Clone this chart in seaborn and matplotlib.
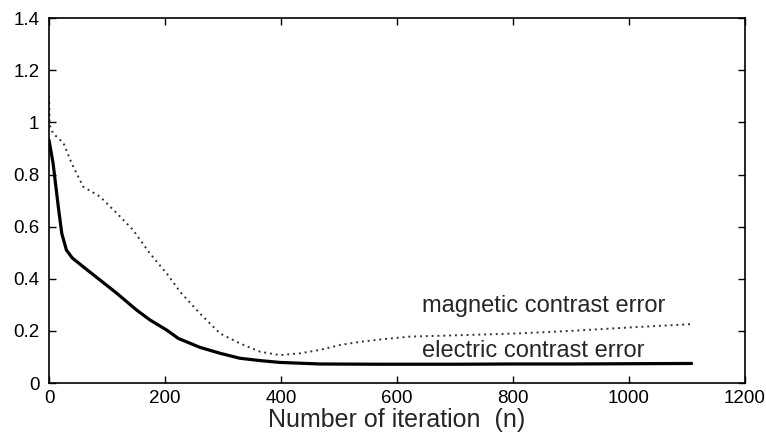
import matplotlib
matplotlib.use("Agg")
import matplotlib.pyplot as plt
import seaborn as sns

# values
n_electric = [0, 7, 16, 22, 30, 40, 59, 88, 117, 151, 174, 203, 223, 260, 295,
              329, 364, 398, 467, 571, 700, 800, 900, 1000, 1108]
electric_err = [0.932, 0.843, 0.676, 0.574, 0.51, 0.48, 0.446, 0.395, 0.344, 0.28,
                0.242, 0.203, 0.171, 0.137, 0.114, 0.095, 0.086, 0.079, 0.073,
                0.072, 0.072, 0.073, 0.073, 0.074, 0.075]

n_magnetic = [0, 1, 7, 25, 39, 59, 88, 117, 145, 174, 203, 226, 260, 295, 329,
              364, 398, 433, 467, 502, 536, 571, 622, 700, 806, 900, 1000, 1108]
magnetic_err = [1.10, 0.99, 0.958, 0.92, 0.843, 0.753, 0.715, 0.651, 0.587, 0.497,
                0.42, 0.35, 0.267, 0.19, 0.152, 0.12, 0.107, 0.114, 0.127, 0.146,
                0.158, 0.167, 0.178, 0.183, 0.19, 0.2, 0.213, 0.226]

x_ticks = [0, 200, 400, 600, 800, 1000, 1200]
y_ticks = [0, 0.2, 0.4, 0.6, 0.8, 1.0, 1.2, 1.4]

sns.set_style("ticks")
plt.rcParams['font.family'] = ['Liberation Sans', 'DejaVu Sans']

fig = plt.figure(figsize=(7.66, 4.32), dpi=100)
ax = fig.add_axes([0.064, 0.1134, 0.9086, 0.8446])

sns.lineplot(x=n_electric, y=electric_err, ax=ax, color="black", linewidth=2.3,
             estimator=None, sort=False)
sns.lineplot(x=n_magnetic, y=magnetic_err, ax=ax, color="#333333", linewidth=1.4,
             linestyle=(0, (1.0, 2.0)), estimator=None, sort=False)

ax.set_xlim(0, 1200)
ax.set_ylim(0, 1.4)
ax.set_xticks(x_ticks, labels=[f"{t:g}" for t in x_ticks])
ax.set_yticks(y_ticks, labels=[f"{t:g}" for t in y_ticks])
ax.tick_params(direction="in", length=5, width=1, top=True, right=True,
               labelsize=13.5, colors="black")
ax.tick_params(axis="x", pad=5)
ax.tick_params(axis="y", pad=7)
for sp in ax.spines.values():
    sp.set_visible(True)
    sp.set_color("black")
    sp.set_linewidth(1.2)

ax.set_xlabel("Number of iteration  (n)", fontsize=18, labelpad=1)

ax.text(643, 0.273, "magnetic contrast error", fontsize=17, va="baseline", ha="left")
ax.text(643, 0.0985, "electric contrast error", fontsize=17, va="baseline", ha="left")

fig.savefig("out.png", dpi=100)
